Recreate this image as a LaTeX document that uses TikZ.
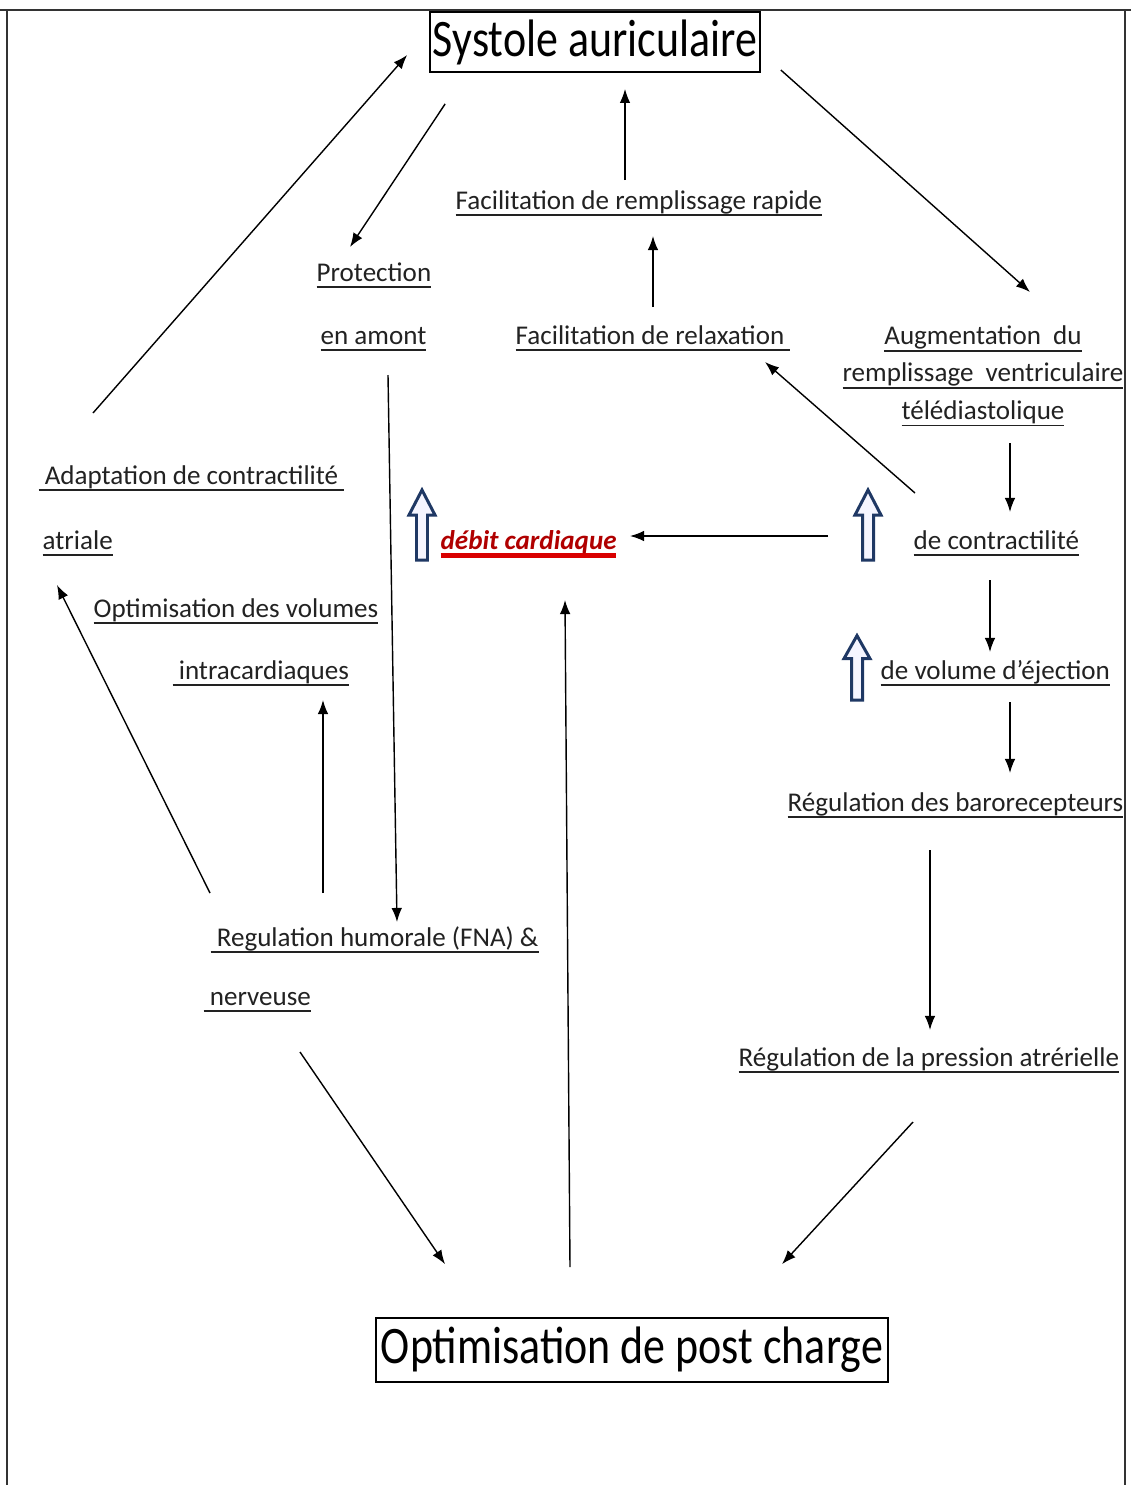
\documentclass[tikz,border=0pt]{standalone}
\usepackage{graphicx}
\usepackage{fontspec}
\setmainfont{Carlito}
\usetikzlibrary{arrows.meta}

\definecolor{txtgray}{HTML}{222222}
\definecolor{arrblue}{HTML}{1F3864}
\definecolor{debitred}{HTML}{B00000}

% underlined labels
\newcommand{\ulbl}[1]{\setbox0\hbox{#1}\leavevmode\rlap{\rule[-4.1pt]{\wd0}{1pt}}\box0}
\newcommand{\ulred}[1]{\setbox0\hbox{#1}\leavevmode\rlap{\color{red!85!black}\rule[-5pt]{\wd0}{2.6pt}}\box0}

\tikzset{
  lbl/.style={anchor=base west, inner sep=0pt, text=txtgray, font=\fontsize{15.4pt}{21.3pt}\selectfont},
  bigbox/.style={draw, line width=1pt, inner sep=0pt, text=black, font=\fontsize{25pt}{30pt}\selectfont},
  hollowup/.pic={
    \draw[draw=arrblue, fill=blue!4, line width=1.7pt, line join=miter]
      (-5.5,0) -- (-5.5,-45) -- (-13,-45) -- (0,-70) -- (13,-45) -- (5.5,-45) -- (5.5,0) -- cycle;
  }
}

\begin{document}
\begin{tikzpicture}[x=0.02cm, y=-0.02cm,
>={Latex[length=8pt,width=6pt]},
line width=0.8pt,
]
\useasboundingbox (0,0) rectangle (1131,1485);

% frame
\draw[line width=1.1pt, black!80] (7,1485) -- (7,10);
\draw[line width=1.1pt, black!80] (0,10) -- (1131,10);
\draw[line width=1.1pt, black!80] (1125,10) -- (1125,1485);

% boxes
\node[bigbox, minimum width=6.6cm, minimum height=1.2cm] (sys) at (595,42) {\scalebox{1}[1.2]{Systole auriculaire}};
\node[bigbox, minimum width=10.24cm, minimum height=1.28cm] (post) at (632,1350) {\scalebox{1}[1.2]{Optimisation de post charge}};

% labels
\node[lbl] (rapide) at (455,209) {\ulbl{Facilitation de remplissage rapide}};
\node[lbl] (prot) at (316,281) {\ulbl{Protection}};
\node[lbl] (amont) at (320,344) {\ulbl{en amont}};
\node[lbl] (relax) at (515,344) {\ulbl{Facilitation de relaxation\ }};
\node[lbl, anchor=center, align=center] (augm) at (983,376)
  {\ulbl{Augmentation\ \ du}\\ \ulbl{remplissage\ \ ventriculaire}\\ \ulbl{télédiastolique}};
\node[lbl] (adapt) at (38,484) {\ulbl{\ Adaptation de contractilité\ }};
\node[lbl] (atri) at (42,549) {\ulbl{atriale}};
\node[lbl, text=debitred, font=\fontsize{15.4pt}{21.3pt}\selectfont\bfseries\itshape] (debit) at (440,549) {\ulred{débit cardiaque}};
\node[lbl] (contr) at (913,549) {\ulbl{de contractilité}};
\node[lbl] (optvol) at (93,617) {\ulbl{Optimisation des volumes}};
\node[lbl] (intra) at (172,679) {\ulbl{\ intracardiaques}};
\node[lbl] (vol) at (880,679) {\ulbl{de volume d’éjection}};
\node[lbl] (baro) at (787,811) {\ulbl{Régulation des barorecepteurs}};
\node[lbl] (humor) at (210,946) {\ulbl{\ Regulation humorale (FNA) \&}};
\node[lbl] (nerv) at (203,1005) {\ulbl{\ nerveuse}};
\node[lbl] (press) at (738,1066) {\ulbl{Régulation de la pression atrérielle}};

% hollow arrows
\pic at (422,560) {hollowup};
\pic at (868,560) {hollowup};
\pic[yscale=0.92] at (857,700) {hollowup};

% connectors
\draw[->] ([shift={(55,-71)}]adapt.base west) -- ([shift={(-22,13)}]sys.west);
\draw[->] ([shift={(16,31)}]sys.south west) -- ([shift={(34,-34)}]prot.base west);
\draw[->] ([shift={(170,-29)}]rapide.base west) -- ([shift={(30,16)}]sys.south);
\draw[->] ([shift={(138,-37)}]relax.base west) -- ([shift={(198,27)}]rapide.base west);
\draw[->] ([shift={(20,28)}]sys.east) -- ([shift={(47,-84)}]augm.center);
\draw[->] ([shift={(27,67)}]augm.center) -- ([shift={(97,-37)}]contr.base west);
\draw[->] ([shift={(2,-56)}]contr.base west) -- ([shift={(250,18)}]relax.base west);
\draw[->] ([shift={(-85,-13)}]contr.base west) -- ([shift={(190,-13)}]debit.base west);
\draw[->] ([shift={(77,31)}]contr.base west) -- ([shift={(110,-27)}]vol.base west);
\draw[->] ([shift={(130,23)}]vol.base west) -- ([shift={(223,-38)}]baro.base west);
\draw[->] ([shift={(143,39)}]baro.base west) -- ([shift={(192,-36)}]press.base west);
\draw[->] ([shift={(175,56)}]press.base west) -- ([shift={(150,-53)}]post.north);
\draw[->] ([shift={(97,47)}]nerv.base west) -- ([shift={(-187,-53)}]post.north);
\draw[->] ([shift={(-62,-50)}]post.north) -- ([shift={(125,51)}]debit.base west);
\draw[->] ([shift={(68,31)}]amont.base west) -- ([shift={(187,-24)}]humor.base west);
\draw[->] ([shift={(113,-53)}]humor.base west) -- ([shift={(151,21)}]intra.base west);
\draw[->] ([shift={(0,-53)}]humor.base west) -- ([shift={(15,36)}]atri.base west);

\end{tikzpicture}
\end{document}
